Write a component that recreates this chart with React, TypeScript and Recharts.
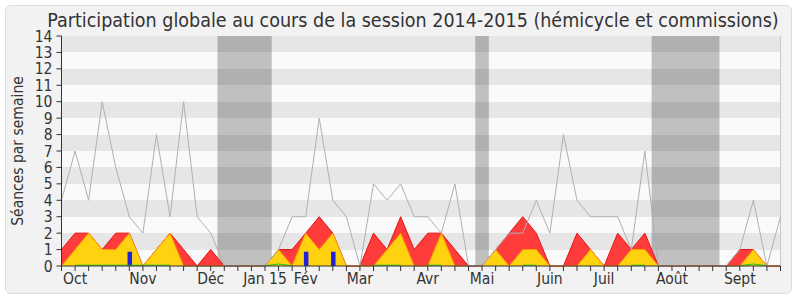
import {
  ComposedChart,
  Area,
  Line,
  Bar,
  XAxis,
  YAxis,
  CartesianGrid,
  ReferenceArea,
  ReferenceLine,
} from 'recharts'

// séances par semaine, semaine 0 = fin septembre 2014
const presences = [1, 2, 2, 1, 2, 2, 0, 1, 2, 1, 0, 1, 0, 0, 0, 0, 1, 1, 2, 3, 2, 0, 0, 2, 1, 3, 1, 2, 2, 1, 0, 0, 1, 2, 3, 2, 0, 0, 2, 1, 0, 2, 1, 2, 0, 0, 0, 0, 0, 0, 1, 1, 0, 0]
const hemicycle = [0, 1, 2, 1, 1, 2, 0, 1, 2, 0, 0, 0, 0, 0, 0, 0, 1, 0, 2, 1, 2, 0, 0, 0, 1, 2, 0, 0, 2, 0, 0, 0, 1, 0, 1, 1, 0, 0, 0, 1, 0, 0, 1, 1, 0, 0, 0, 0, 0, 0, 0, 1, 0, 0]
const maximum = [4, 7, 4, 10, 6, 3, 2, 8, 3, 10, 3, 2, 0, 0, 0, 0, 1, 3, 3, 9, 4, 3, 0, 5, 4, 5, 3, 3, 2, 5, 0, 0, 1, 2, 2, 4, 2, 8, 4, 3, 3, 3, 1, 7, 0, 0, 0, 0, 0, 0, 1, 4, 0, 3]
const questions = [null, 0.05, 0.05, 0.05, 0.05, 0.05, 0.05, 0.05, 0.05, null, null, null, null, null, null, 0.02, 0.12, 0.02, null, null, null, null, null, 0.05, 0.05, 0.05, null, 0.05, 0.05, null, null, null, null, null, 0.05, 0.05, null, null, null, null, null, null, 0.05, 0.05, null, null, null, null, null, null, 0.02, 0.12, 0.02, null]
const interventions = [null, null, null, null, null, 0.87, null, null, null, null, null, null, null, null, null, null, null, null, 0.87, null, 0.87, null, null, null, null, null, null, null, null, null, null, null, null, null, null, null, null, null, null, null, null, null, null, null, null, null, null, null, null, null, null, null, null, null]

const monthNames = ['Oct', 'Nov', 'Déc', 'Jan 15', 'Fév', 'Mar', 'Avr', 'Mai', 'Juin', 'Juil', 'Août', 'Sept']
const monthWeeks = [1, 6, 11, 15, 18, 22, 27, 31, 36, 40, 45, 50]
const vacations = [
  [11.5, 15.5],
  [30.5, 31.5],
  [43.5, 48.5],
]
const yTicks = [0, 1, 2, 3, 4, 5, 6, 7, 8, 9, 10, 11, 12, 13, 14]

const weeks = presences.map((_, i) => i)
const data = weeks.map((w) => ({
  w,
  presences: presences[w],
  hemicycle: hemicycle[w],
  maximum: maximum[w],
  questions: questions[w],
  interventions: interventions[w],
}))

const font = '"DejaVu Sans Condensed", "DejaVu Sans", sans-serif'
const monthLabel = (v: number) => {
  const k = monthWeeks.indexOf(v)
  return k >= 0 ? monthNames[k] : ''
}

export default function App() {
  return (
    <div style={{ position: 'relative', width: 800, height: 300, background: '#fff', fontFamily: font }}>
      <style>{'body{margin:0}'}</style>
      <div
        style={{
          position: 'absolute',
          left: 5,
          top: 5,
          width: 787,
          height: 289,
          boxSizing: 'border-box',
          border: '1px solid #dcdcdc',
          borderRadius: 6,
          background: '#f2f2f2',
        }}
      />
      <div style={{ position: 'absolute', left: 0, top: 0 }}>
        <ComposedChart
          width={800}
          height={300}
          data={data}
          margin={{ top: 36, right: 19.5, bottom: 0, left: 0 }}
        >
          <CartesianGrid
            vertical={false}
            stroke="none"
            horizontalFill={['#e6e6e6', '#fafafa']}
          />
          {vacations.map(([a, b]) => (
            <ReferenceArea
              key={a}
              x1={a}
              x2={b}
              fill="#000"
              fillOpacity={0.23}
              stroke="none"
              ifOverflow="visible"
            />
          ))}
          <ReferenceLine x={53} stroke="#c8c8c8" />
          <XAxis
            dataKey="w"
            type="number"
            domain={[0, 53]}
            ticks={weeks}
            interval={0}
            height={34}
            tickSize={5}
            tickMargin={2}
            axisLine={{ stroke: '#333' }}
            tickLine={{ stroke: '#333' }}
            tickFormatter={monthLabel}
            tick={{ fill: '#333', fontSize: 15.5, fontFamily: font }}
          />
          <XAxis
            xAxisId="top"
            orientation="top"
            dataKey="w"
            type="number"
            domain={[0, 53]}
            ticks={weeks}
            interval={0}
            height={0}
            tickSize={1}
            axisLine={false}
            tickLine={{ stroke: '#555' }}
            tickFormatter={() => ''}
          />
          <YAxis
            type="number"
            domain={[0, 14]}
            ticks={yTicks}
            interval={0}
            width={61.5}
            tickSize={5}
            tickMargin={4}
            axisLine={{ stroke: '#333' }}
            tickLine={{ stroke: '#333' }}
            tick={{ fill: '#333', fontSize: 15.5, fontFamily: font }}
          />
          <Area
            type="linear"
            dataKey="presences"
            fill="#ff3c3c"
            fillOpacity={1}
            stroke="#e81010"
            strokeWidth={1}
            dot={false}
            activeDot={false}
            isAnimationActive={false}
          />
          <Area
            type="linear"
            dataKey="hemicycle"
            fill="#ffd20f"
            fillOpacity={1}
            stroke="#ff9a00"
            strokeWidth={1}
            dot={false}
            activeDot={false}
            isAnimationActive={false}
          />
          <Line
            type="linear"
            dataKey="questions"
            stroke="#1ecc1e"
            strokeWidth={1}
            dot={false}
            activeDot={false}
            connectNulls={false}
            isAnimationActive={false}
          />
          <Bar dataKey="interventions" fill="#2222dd" barSize={4.5} isAnimationActive={false} />
          <Line
            type="linear"
            dataKey="maximum"
            stroke="#b0b0b0"
            strokeWidth={1}
            dot={false}
            activeDot={false}
            isAnimationActive={false}
          />
        </ComposedChart>
      </div>
      <svg
        width={800}
        height={300}
        style={{ position: 'absolute', left: 0, top: 0, pointerEvents: 'none' }}
      >
        <text x={413} y={26.5} textAnchor="middle" fontSize={19.5} fill="#333" fontFamily={font}>
          Participation globale au cours de la session 2014-2015 (hémicycle et commissions)
        </text>
        <text
          transform="translate(18,151) rotate(-90)"
          textAnchor="middle"
          dominantBaseline="central"
          fontSize={15.5}
          fill="#333"
          fontFamily={font}
        >
          Séances par semaine
        </text>
      </svg>
    </div>
  )
}
